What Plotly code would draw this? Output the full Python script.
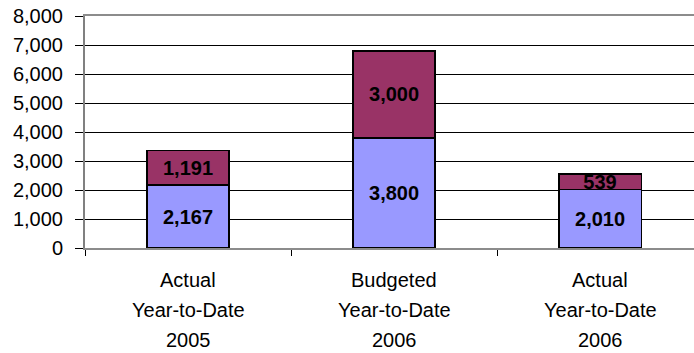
import plotly.graph_objects as go

categories = ["Actual<br>Year-to-Date<br>2005", "Budgeted<br>Year-to-Date<br>2006", "Actual<br>Year-to-Date<br>2006"]
bottom_values = [2167, 3800, 2010]
top_values = [1191, 3000, 539]
y_ticks = [0, 1000, 2000, 3000, 4000, 5000, 6000, 7000, 8000]

x = list(range(len(categories)))
FONT = "Liberation Sans, Arial, sans-serif"

fig = go.Figure()
fig.add_trace(go.Bar(
    x=x, y=bottom_values, marker=dict(color="#9999FF", line=dict(color="black", width=1.5)),
    text=[f"{v:,}" for v in bottom_values], textposition="inside", insidetextanchor="middle",
    textfont=dict(family=FONT, size=20, color="black", weight="bold"), textangle=0,
    hoverinfo="skip"))
fig.add_trace(go.Bar(
    x=x, y=top_values, marker=dict(color="#993366", line=dict(color="black", width=1.5)),
    text=[f"{v:,}" for v in top_values], textposition="inside", insidetextanchor="middle",
    textfont=dict(family=FONT, size=20, color="black", weight="bold"), textangle=0,
    hoverinfo="skip"))

# category labels, one line each, below the axis
for i, cat in enumerate(categories):
    for j, line in enumerate(cat.split("<br>")):
        fig.add_annotation(x=i, y=0, xref="x", yref="y", text=line, showarrow=False,
                           yanchor="middle", yshift=-32 - 30 * j,
                           font=dict(family=FONT, size=20, color="black"))

fig.update_layout(
    barmode="stack", bargap=0.6, showlegend=False,
    width=694, height=353, margin=dict(l=85, r=0, t=16, b=105),
    plot_bgcolor="white", paper_bgcolor="white",
    uniformtext=dict(mode="show", minsize=20),
    xaxis=dict(range=[-0.5, 2.456], tickvals=[-0.5, 0.5, 1.5], ticktext=["", "", ""],
               ticks="outside", ticklen=6, tickcolor="black", showgrid=False, mirror=True,
               showline=True, linecolor="#8c8c8c", linewidth=2, zeroline=False, fixedrange=True),
    yaxis=dict(range=[0, 8000], tickvals=y_ticks, ticktext=[f"{v:,}" for v in y_ticks],
               ticks="outside", ticklen=8, tickcolor="black", ticklabelstandoff=8,
               showgrid=True, gridcolor="black", gridwidth=1,
               showline=True, linecolor="#808080", linewidth=2, zeroline=False,
               tickfont=dict(family=FONT, size=20, color="black"), fixedrange=True),
)

fig.write_html("out.html", config={"displayModeBar": False, "staticPlot": True},
               post_script="document.body.style.margin='0';")
